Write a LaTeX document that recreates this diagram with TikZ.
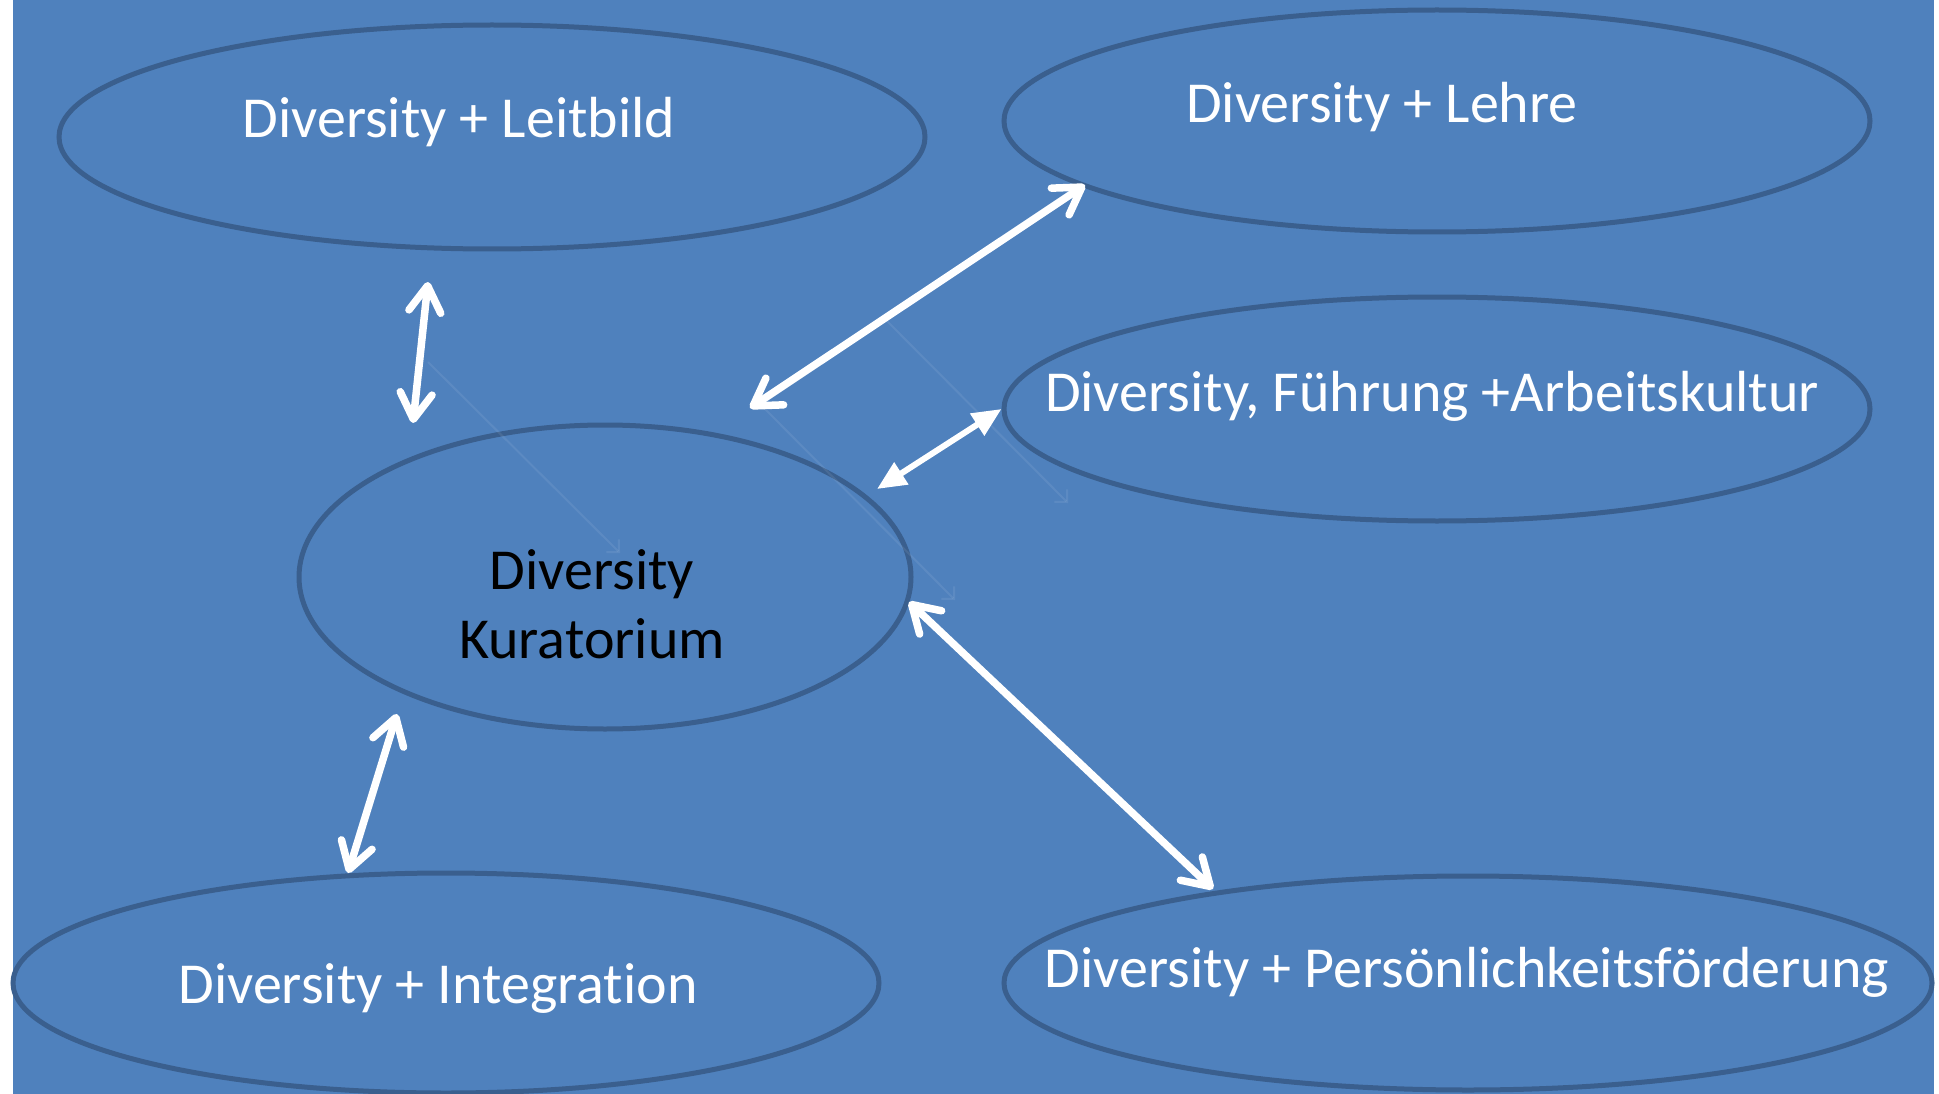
\documentclass[tikz,border=0pt]{standalone}
\usepackage{fontspec}
\setmainfont{Carlito}[Ligatures=NoCommon]
\usetikzlibrary{arrows.meta}
\usetikzlibrary{shapes.geometric}
\definecolor{slide}{HTML}{4F81BD}
\definecolor{rim}{HTML}{3A5F8E}
\tikzset{
  field/.style={ellipse, draw=rim, line width=5pt, inner sep=0pt},
  caption/.style={anchor=base, inner sep=0pt, text=white, font=\fontsize{58}{69}\selectfont},
  link/.style={white, line width=7.5pt, <->, >={Straight Barb[length=26pt, width=32pt, round]}},
  solidlink/.style={white, line width=6pt, <->, >={Triangle[length=29pt, width=25pt]}},
  ghost/.style={white, opacity=.08, line width=2pt, ->, >={Straight Barb[length=9pt, width=18pt]}}
}
\begin{document}
\begin{tikzpicture}[x=1pt, y=-1pt]
\useasboundingbox (0,0) rectangle (1939,1094);
\fill[slide] (13,0) rectangle (1934,1094);
% the six fields
\node[field, minimum width=866pt, minimum height=224pt] (leit)  at (492,137) {};
\node[field, minimum width=866pt, minimum height=222pt] (lehre) at (1437,121) {};
\node[field, minimum width=866pt, minimum height=224pt] (fuehr) at (1437,409) {};
\node[field, minimum width=612pt, minimum height=304pt] (kur)   at (605,577) {};
\node[field, minimum width=866pt, minimum height=220pt] (integ) at (446,983) {};
\node[field, minimum width=928pt, minimum height=214pt] (pers)  at (1468,983) {};
% texts
\node[caption] (leitT)  at (459,138)  {Diversity + Leitbild};
\node[caption] (lehreT) at (1382,123) {Diversity + Lehre};
\node[caption] (fuehrT) at (1432,411) {Diversity, Führung +Arbeitskultur};
\node[caption, anchor=south, text=black, align=center] (kurT) at (592,659) {Diversity\\Kuratorium};
\node[caption] (integT) at (438,1003) {Diversity + Integration};
\node[caption] (persT)  at (1467,987) {Diversity + Persönlichkeitsförderung};
% arrow ends
\coordinate (leitA)  at (428,282);
\coordinate (leitB)  at (413,423);
\coordinate (lehreA) at (1085,185);
\coordinate (lehreB) at (750,408);
\coordinate (fuehrB) at (877,489);
\coordinate (persA)  at (1213,889);
\coordinate (persB)  at (909,602);
\coordinate (integA) at (348,873);
\coordinate (integB) at (397,714);
% faint traces
\coordinate (g1a) at (428,362);
\coordinate (g1b) at (620,553);
\coordinate (g2a) at (883,317);
\coordinate (g2b) at (1068,503);
\coordinate (g3a) at (763,407);
\coordinate (g3b) at (955,600);
\foreach \a/\b in {g1a/g1b, g2a/g2b, g3a/g3b}
  \draw[ghost] (\a) -- (\b);
% arrows
\foreach \a/\b in {leitA/leitB, lehreA/lehreB, persA/persB, integA/integB}
  \draw[link] (\a) -- (\b);
\draw[solidlink] (fuehr.west) -- (fuehrB);
\end{tikzpicture}
\end{document}
